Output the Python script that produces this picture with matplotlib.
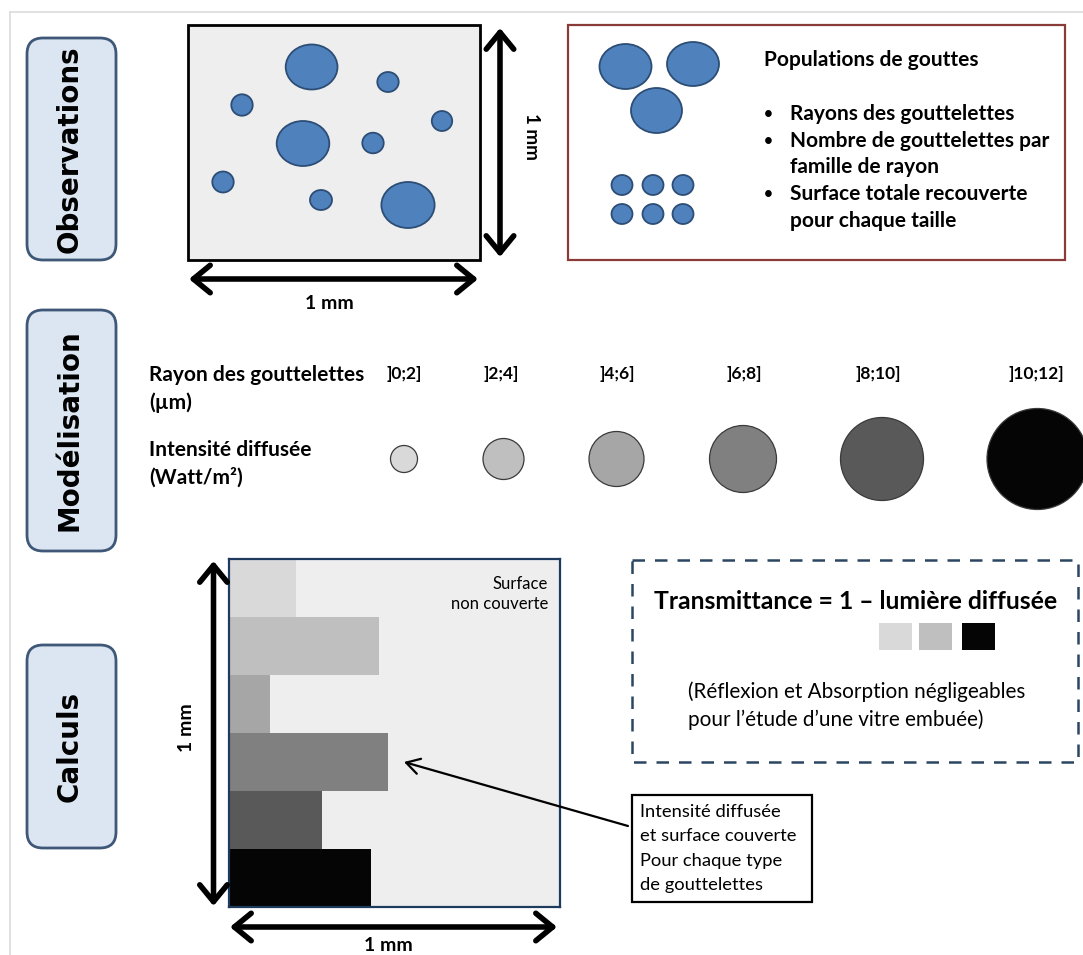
import matplotlib
matplotlib.use("Agg")
import matplotlib.pyplot as plt
from matplotlib.patches import FancyBboxPatch, Rectangle, Ellipse

# ---------------- data ----------------
section_labels = ["Observations", "Modélisation", "Calculs"]

# Observed droplets on the 1 mm x 1 mm field (layout units)
obs_x = [311.6, 388, 242, 442, 303, 373, 223, 321, 408]
obs_y = [67, 82, 105, 121, 143.5, 143, 182, 200, 205]
obs_rx = [25.9, 10.7, 10.7, 10.2, 26.3, 10.7, 10.7, 11, 26.6]
obs_ry = [22.5, 10, 10.7, 10, 22.5, 10.3, 10.5, 10, 23]

population_title = "Populations de gouttes"
population_lines = ["Rayons des gouttelettes", "Nombre de gouttelettes par",
                    "famille de rayon", "Surface totale recouverte",
                    "pour chaque taille"]
population_bullet = [True, True, False, True, False]

radius_classes = ["]0;2]", "]2;4]", "]4;6]", "]6;8]", "]8;10]", "]10;12]"]
class_grey = ["#d9d9d9", "#bfbfbf", "#a6a6a6", "#808080", "#595959", "#050505"]
class_circle_r = [13.5, 20.5, 27.5, 33.5, 41.5, 50.5]
# fraction of the 1 mm field covered by each droplet class
coverage = [0.205, 0.454, 0.124, 0.483, 0.283, 0.432]

# ---------------- figure ----------------
W, H = 1083, 955
fig = plt.figure(figsize=(W / 100, H / 100), dpi=100)
ax = fig.add_axes([0, 0, 1, 1])
ax.set_xlim(0, W)
ax.set_ylim(H, 0)
ax.axis("off")
ax.set_zorder(3)
ax.patch.set_alpha(0)

SANS = ["Lato", "DejaVu Sans"]
LABEL = ["DejaVu Sans"]

# page border lines
ax.plot([10, W], [12, 12], color="#dcdcdc", lw=1.2)
ax.plot([10, 10], [12, H], color="#dcdcdc", lw=1.2)

# section label boxes
label_boxes = [(27, 38, 89, 222), (27, 310, 89, 241), (27, 645, 89, 203)]
for (x, y, w, h), txt in zip(label_boxes, section_labels):
    ax.add_patch(FancyBboxPatch((x, y), w, h,
                                boxstyle="round,pad=0,rounding_size=16",
                                fc="#dce6f2", ec="#3f5878", lw=2))
    ax.text(x + w / 2 - 2, y + h / 2, txt, rotation=90, ha="center",
            va="center", fontsize=20, fontweight="bold", family=LABEL)

def darrow(x0, y0, x1, y1, lw=4):
    ax.annotate("", xy=(x1, y1), xytext=(x0, y0),
                arrowprops=dict(arrowstyle="<->,head_length=0.55,head_width=0.45",
                                lw=lw, color="black", mutation_scale=22,
                                shrinkA=0, shrinkB=0))

# ---------------- Observations ----------------
ax.add_patch(Rectangle((187.5, 25), 292.5, 235, fc="#eeeeee", ec="black", lw=2))
for x, y, rx, ry in zip(obs_x, obs_y, obs_rx, obs_ry):
    ax.add_patch(Ellipse((x, y), 2 * rx, 2 * ry, fc="#4f81bd", ec="#2c4d75", lw=1.3))
darrow(500, 28, 500, 257)
ax.text(532, 136, "1 mm", rotation=-90, ha="center", va="center",
        fontsize=13.5, fontweight="bold", family=SANS)
darrow(189, 279, 478, 279)
ax.text(329, 303, "1 mm", ha="center", va="center", fontsize=14,
        fontweight="bold", family=SANS)

# population box
ax.add_patch(Rectangle((568, 25), 497, 235, fc="white", ec="#8b3a3a", lw=1.6))
for (x, y, rx, ry) in [(625.5, 66.5, 26, 22.5), (693, 64, 26, 22), (656.5, 110.5, 25.5, 22.5)]:
    ax.add_patch(Ellipse((x, y), 2 * rx, 2 * ry, fc="#4f81bd", ec="#2c4d75", lw=1.3))
for yy in (185, 214):
    for xx in (622, 653, 683):
        ax.add_patch(Ellipse((xx, yy), 21, 20, fc="#4f81bd", ec="#2c4d75", lw=1.3))
ax.text(764, 60, population_title, ha="left", va="center", fontsize=15,
        fontweight="bold", family=SANS)
line_y = [114, 141, 167, 194, 221]
for txt, b, yy in zip(population_lines, population_bullet, line_y):
    if b:
        ax.text(768, yy, "•", ha="center", va="center", fontsize=11,
                fontweight="bold", family=SANS)
    ax.text(790, yy, txt, ha="left", va="center", fontsize=15,
            fontweight="bold", family=SANS)

# ---------------- Modélisation ----------------
for txt, yy in zip(["Rayon des gouttelettes", "(µm)", "Intensité diffusée",
                    "(Watt/m²)"], [375, 403, 450, 477]):
    ax.text(149, yy, txt, ha="left", va="center", fontsize=15,
            fontweight="bold", family=SANS)
label_x = [404, 501, 617, 744, 878, 1036]
circle_x = [404, 503.5, 616.5, 743, 882, 1037.5]
for lab, lx, cx, r, c in zip(radius_classes, label_x, circle_x, class_circle_r, class_grey):
    ax.text(lx, 374, lab, ha="center", va="center", fontsize=12.5,
            fontweight="bold", family=SANS)
    ax.add_patch(Ellipse((cx, 459), 2 * r, 2 * r, fc=c, ec="#3a3a3a", lw=0.9))

# ---------------- Calculs ----------------
bx0, by0, bw, bh = 228.5, 559, 331, 348
axc = fig.add_axes([bx0 / W, 1 - (by0 + bh) / H, bw / W, bh / H])
axc.set_zorder(1)
axc.set_facecolor("#eeeeee")
n = len(coverage)
axc.barh(range(n), coverage, height=1.0, color=class_grey, align="center")
axc.set_xlim(0, 1)
axc.set_ylim(n - 0.5, -0.5)
axc.set_xticks([])
axc.set_yticks([])
for s in axc.spines.values():
    s.set_color("#1f3a5f")
    s.set_linewidth(1.6)
axc.text(0.965, 0.95, "Surface\nnon couverte", transform=axc.transAxes,
         ha="right", va="top", fontsize=12, family=SANS, linespacing=1.3)

darrow(213.5, 561, 213.5, 906)
ax.text(186, 728, "1 mm", rotation=90, ha="center", va="center",
        fontsize=14, fontweight="bold", family=SANS)
darrow(230, 927, 557, 927)
ax.text(388, 945, "1 mm", ha="center", va="center", fontsize=14,
        fontweight="bold", family=SANS)

# annotation
ax.annotate("", xy=(404, 762), xytext=(628, 826),
            arrowprops=dict(arrowstyle="->,head_length=0.6,head_width=0.35",
                            lw=1.6, color="black", mutation_scale=16,
                            shrinkA=0, shrinkB=0))
ax.add_patch(Rectangle((632, 795), 180, 107, fc="white", ec="black", lw=1.6))
for txt, yy in zip(["Intensité diffusée", "et surface couverte",
                    "Pour chaque type", "de gouttelettes"], [812, 836, 861, 885]):
    ax.text(640, yy, txt, ha="left", va="center", fontsize=13.2, family=SANS)

# transmittance box
ax.add_patch(Rectangle((632, 560), 446, 202, fc="white", ec="#2b4563", lw=1.8,
                       ls=(0, (5, 4))))
ax.text(856, 601, "Transmittance = 1 – lumière diffusée", ha="center",
        va="center", fontsize=17.8, fontweight="bold", family=SANS)
for (x0, c) in [(879, class_grey[0]), (919, class_grey[1]), (962, class_grey[5])]:
    ax.add_patch(Rectangle((x0, 623), 33, 27, fc=c, ec="none"))
ax.text(688, 692, "(Réflexion et Absorption négligeables", ha="left",
        va="center", fontsize=14.9, family=SANS)
ax.text(688, 720, "pour l’étude d’une vitre embuée)", ha="left",
        va="center", fontsize=14.9, family=SANS)

fig.savefig("out.png", dpi=100)
